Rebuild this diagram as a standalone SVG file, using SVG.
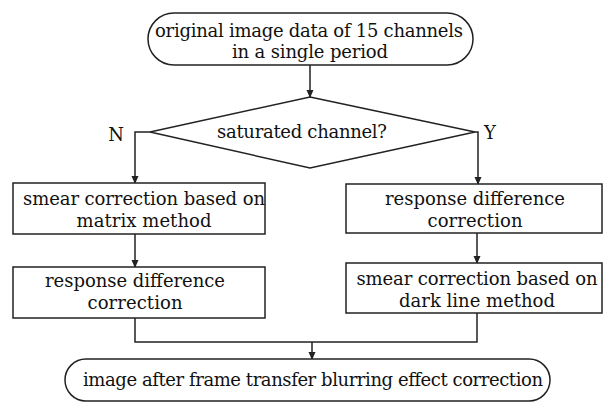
<svg xmlns="http://www.w3.org/2000/svg" width="603" height="402" viewBox="0 0 603 402">
<style>
.s{fill:#fff;stroke:#222;stroke-width:1.5}
.c{fill:none;stroke:#222;stroke-width:1.5}
text{font-family:"DejaVu Serif","Liberation Serif",serif;font-size:18px;fill:#111;text-anchor:middle}
</style>
<defs>
<marker id="a" markerUnits="userSpaceOnUse" markerWidth="8" markerHeight="9" refX="7" refY="4" orient="auto">
<path d="M0,0.5 L8,4 L0,7.5 Z" fill="#222"/>
</marker>
</defs>
<rect width="603" height="402" fill="#fff"/>
<g id="connectors">
<path class="c" d="M310,65 V97" marker-end="url(#a)"/>
<path class="c" d="M150,132 H135 V183" marker-end="url(#a)"/>
<path class="c" d="M475,132 H478 V184" marker-end="url(#a)"/>
<path class="c" d="M135,234 V267" marker-end="url(#a)"/>
<path class="c" d="M477,233 V263" marker-end="url(#a)"/>
<path class="c" d="M135,318 V342 H477 V313"/>
<path class="c" d="M312,342 V359" marker-end="url(#a)"/>
</g>
<g id="start">
<rect class="s" x="148" y="13" width="325" height="52" rx="26"/>
<text x="309" y="37" textLength="308">original image data of 15 channels</text>
<text x="310" y="58" textLength="156">in a single period</text>
</g>
<g id="decision">
<polygon class="s" points="310,97 475,132 310,168 150,132"/>
<text x="302" y="138" textLength="170">saturated channel?</text>
</g>
<g id="labelN"><text x="116" y="141">N</text></g>
<g id="labelY"><text x="490" y="139">Y</text></g>
<g id="left1">
<rect class="s" x="13" y="183" width="252" height="51"/>
<text x="144" y="205" textLength="242">smear correction based on</text>
<text x="144" y="227" textLength="135">matrix method</text>
</g>
<g id="left2">
<rect class="s" x="13" y="267" width="252" height="51"/>
<text x="135" y="287" textLength="180">response difference</text>
<text x="135" y="309" textLength="95">correction</text>
</g>
<g id="right1">
<rect class="s" x="346" y="184" width="256" height="49"/>
<text x="475" y="205" textLength="180">response difference</text>
<text x="475" y="227" textLength="95">correction</text>
</g>
<g id="right2">
<rect class="s" x="346" y="263" width="256" height="50"/>
<text x="477" y="285" textLength="241">smear correction based on</text>
<text x="477" y="307" textLength="156">dark line method</text>
</g>
<g id="end">
<rect class="s" x="65" y="359" width="485" height="42" rx="21"/>
<text x="313" y="386" textLength="460">image after frame transfer blurring effect correction</text>
</g>
</svg>
